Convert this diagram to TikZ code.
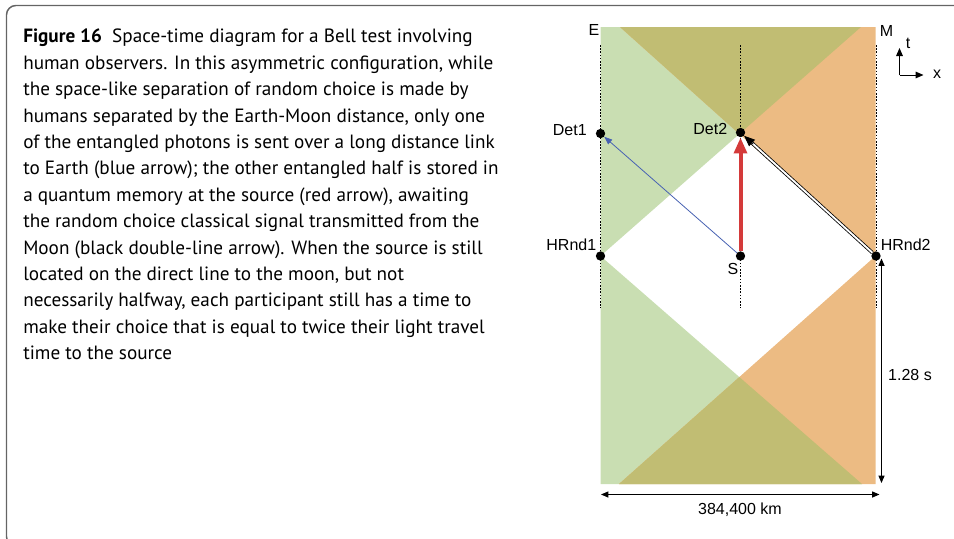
\documentclass[tikz,border=0pt]{standalone}
\usepackage{fontspec}
\setmainfont{Liberation Sans}
\newfontfamily\capfont{PT Sans}
\usetikzlibrary{positioning, calc, arrows, arrows.meta}

\definecolor{earthgreen}{RGB}{201,222,178}
\definecolor{moonorange}{RGB}{236,187,131}
\definecolor{conesboth}{RGB}{193,189,115}
\definecolor{photonblue}{RGB}{72,98,178}
\definecolor{memoryred}{RGB}{212,58,58}
\definecolor{framegray}{RGB}{100,100,100}

\begin{document}
\begin{tikzpicture}[x=0.75pt,y=-0.75pt,>=stealth',
    event/.style={circle,fill=black,inner sep=0pt,minimum size=7pt},
    tag/.style={font=\fontsize{12}{14}\selectfont,inner sep=0pt},
    worldline/.style={line width=0.45pt,dash pattern=on 1.2pt off 1.2pt},
    photon/.style={photonblue,line width=0.6pt,-{Triangle[length=6pt,width=4.5pt]}},
    memory/.style={memoryred,line width=3pt,-{Triangle[length=12pt,width=9.5pt]}},
    signal/.style={double,double distance=1.4pt,line width=0.6pt,shorten >=6pt},
    signaltip/.style={-{Triangle[length=8pt,width=6.5pt]},line width=0.6pt},
    dim/.style={line width=0.75pt,{Triangle[length=5.5pt,width=4.5pt]}-{Triangle[length=5.5pt,width=4.5pt]}}]
    \useasboundingbox (0,0) rectangle (954,539);

    % frame of the caption box
    \draw[framegray,line width=1.1pt,rounded corners=7pt] (960,5.5) -- (6.5,5.5) -- (6.5,546) -- (40,546);

    % caption
    \node[anchor=north west,inner sep=0pt,align=left,
          font=\capfont\fontsize{14.4}{19.8}\selectfont] (caption) at (23,29)
        {\textbf{Figure 16}\ \ Space-time diagram for a Bell test involving\\
         human observers. In this asymmetric configuration, while\\
         the space-like separation of random choice is made by\\
         humans separated by the Earth-Moon distance, only one\\
         of the entangled photons is sent over a long distance link\\
         to Earth (blue arrow); the other entangled half is stored in\\
         a quantum memory at the source (red arrow), awaiting\\
         the random choice classical signal transmitted from the\\
         Moon (black double-line arrow). When the source is still\\
         located on the direct line to the moon, but not\\
         necessarily halfway, each participant still has a time to\\
         make their choice that is equal to twice their light travel\\
         time to the source};

    % light cones
    \fill[earthgreen] (600.5,27) -- (861,27) -- (600.5,256) -- cycle;
    \fill[moonorange] (875.5,27) -- (620,27) -- (875.5,256) -- cycle;
    \fill[conesboth] (620,27) -- (861,27) -- (intersection of 600.5,256--861,27 and 620,27--875.5,256) -- cycle;
    \fill[earthgreen] (600.5,256) -- (600.5,484) -- (862,484) -- cycle;
    \fill[moonorange] (875.5,256) -- (875.5,484) -- (619,484) -- cycle;
    \fill[conesboth] (619,484) -- (862,484) -- (intersection of 600.5,256--862,484 and 875.5,256--619,484) -- cycle;

    % world lines
    \draw[worldline] (600.5,45) -- (600.5,308);
    \draw[worldline] (740.5,45) -- (740.5,308);
    \draw[worldline] (876,45) -- (876,308);

    % events
    \node[event] (det1) at (600.5,133.5) {};
    \node[event] (det2) at (740.5,132.5) {};
    \node[event] (hrnd1) at (600.5,256) {};
    \node[event] (src) at (740.5,256) {};
    \node[event] (hrnd2) at (876,256) {};

    \node[tag,anchor=east] at (587,130) {Det1};
    \node[tag,anchor=east] at (727.5,128.5) {Det2};
    \node[tag,anchor=east] at (596.5,245) {HRnd1};
    \node[tag,anchor=west] at (880.5,245) {HRnd2};
    \node[tag] at (733,268.5) {S};
    \node[tag] at (594,30) {E};
    \node[tag] at (886.5,31) {M};

    % signals
    \draw[photon] (src) -- (det1);
    \draw[memory] (src) -- (det2);
    \draw[signal] (hrnd2) -- (det2);
    \draw[signaltip] ($(det2)!13pt!(hrnd2)$) -- (det2);

    % axes
    \coordinate (origin) at (899.5,75);
    \coordinate (tEnd) at (899.5,48);
    \coordinate (xEnd) at (923.5,75);
    \draw[line width=0.75pt,-{Triangle[length=6pt,width=5pt]}] (origin) -- (tEnd);
    \draw[line width=0.75pt,-{Triangle[length=6pt,width=5pt]}] (origin) -- (xEnd);
    \node[tag] at (908,43) {t};
    \node[tag] at (937,74) {x};

    % dimensions
    \coordinate (timeTop) at (881.5,258.5);
    \coordinate (timeBot) at (881.5,483);
    \coordinate (distL) at (601,494.5);
    \coordinate (distR) at (879.5,494.5);
    \draw[dim] (timeTop) -- (timeBot);
    \draw[dim] (distL) -- (distR);
    \node[tag] at (910,374.5) {1.28 s};
    \node[tag] at (740,510) {384,400 km};
\end{tikzpicture}
\end{document}
